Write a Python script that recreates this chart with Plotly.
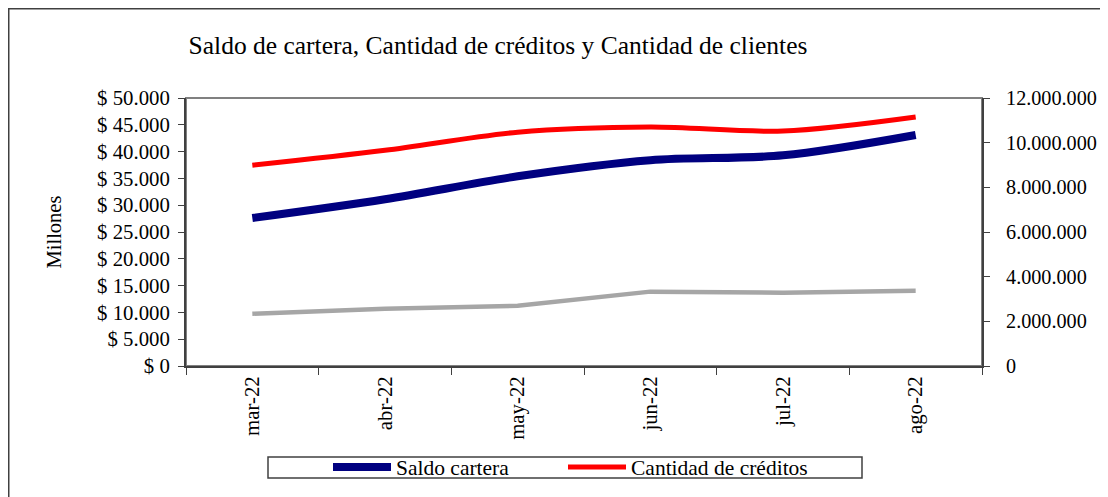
import plotly.graph_objects as go

# ---- data ----
months = ["mar-22", "abr-22", "may-22", "jun-22", "jul-22", "ago-22"]
saldo_cartera = [27600, 31100, 35400, 38400, 39300, 43100]          # millones (left axis)
cantidad_creditos = [8990000, 9660000, 10470000, 10700000, 10520000, 11150000]  # right axis
cantidad_clientes = [2340000, 2560000, 2700000, 3330000, 3280000, 3370000]      # right axis

left_ticks = [0, 5000, 10000, 15000, 20000, 25000, 30000, 35000, 40000, 45000, 50000]
right_ticks = [0, 2000000, 4000000, 6000000, 8000000, 10000000, 12000000]


def fmt_dots(v):
    return f"{v:,}".replace(",", ".")


left_text = [f"$ {fmt_dots(v)}" for v in left_ticks]
right_text = [fmt_dots(v) for v in right_ticks]

FONT = "Liberation Serif"
TICK = 20.8

OFF = 8  # page body margin
W, H = 1108 - OFF, 497 - OFF
# plot area in reference-image pixels
L, R, T, B = 186, 982, 98, 366
L, R, T, B = L - OFF, R - OFF, T - OFF, B - OFF

fig = go.Figure()

fig.add_trace(go.Scatter(
    x=months, y=cantidad_clientes, name="Cantidad de clientes", yaxis="y2",
    mode="lines", line=dict(color="#a6a6a6", width=4.5), showlegend=False))
fig.add_trace(go.Scatter(
    x=months, y=saldo_cartera, name="Saldo cartera", yaxis="y", legend="legend",
    mode="lines", line=dict(color="#000080", width=8, shape="spline", smoothing=0.9)))
fig.add_trace(go.Scatter(
    x=months, y=cantidad_creditos, name="Cantidad de créditos", yaxis="y2", legend="legend2",
    mode="lines", line=dict(color="#ff0000", width=5, shape="spline", smoothing=0.9)))

pw, ph = R - L, B - T


def px(x):  # reference-image x -> paper
    return (x - OFF - L) / pw


def py(y):  # reference-image y -> paper
    return (B - (y - OFF)) / ph


def legend_at(xref_px):
    return dict(orientation="h", x=px(xref_px), xanchor="left", y=py(467), yanchor="middle",
                borderwidth=0, bgcolor="rgba(0,0,0,0)",
                font=dict(family=FONT, size=21.5, color="black"), itemwidth=58)


fig.update_layout(
    width=W, height=H,
    margin=dict(l=L, r=W - R, t=T, b=H - B, pad=0, autoexpand=False),
    paper_bgcolor="white", plot_bgcolor="white",
    font=dict(family=FONT, size=TICK, color="black"),
    title=dict(text="Saldo de cartera, Cantidad de créditos y Cantidad de clientes",
               x=px(498), xanchor="center", xref="paper", y=1 - (45 - OFF) / H, yanchor="middle",
               font=dict(family=FONT, size=25.5, color="black")),
    xaxis=dict(type="category", range=[-0.5, 5.5], showgrid=False, showline=True, automargin=False,
               linecolor="#404040", linewidth=2,
               ticks="outside", ticklen=7, tickcolor="#404040", tickson="boundaries",
               tickangle=-90, tickfont=dict(family=FONT, size=TICK), zeroline=False),
    yaxis=dict(range=[0, 50000], tickvals=left_ticks, ticktext=left_text, showgrid=False,
               automargin=False,
               showline=True, linecolor="#404040", linewidth=2, ticks="outside", ticklen=6,
               tickcolor="#404040", zeroline=False, tickfont=dict(family=FONT, size=TICK),
               ticklabelstandoff=4,
               title=dict(text="Millones", font=dict(family=FONT, size=20.5), standoff=30)),
    yaxis2=dict(range=[0, 12000000], tickvals=right_ticks, ticktext=right_text, overlaying="y",
                automargin=False,
                side="right", showgrid=False, showline=True, linecolor="#404040", linewidth=2,
                ticks="outside", ticklen=6, tickcolor="#404040", zeroline=False,
                ticklabelstandoff=12, tickfont=dict(family=FONT, size=20.2)),
    legend=legend_at(328),
    legend2=legend_at(563),
    showlegend=True,
    shapes=[
        # plot area frame (grey)
        dict(type="rect", xref="paper", yref="paper", x0=0, x1=1, y0=0, y1=1,
             line=dict(color="#808080", width=2), layer="below"),
        # outer chart border
        dict(type="rect", xref="paper", yref="paper",
             x0=(0.75 - L) / pw, x1=(W + 20 - L) / pw, y0=(B - H - 20) / ph, y1=(B - 0.75) / ph,
             line=dict(color="#404040", width=1.5)),
        # legend box
        dict(type="rect", xref="paper", yref="paper", x0=px(268), x1=px(862), y0=py(478), y1=py(457),
             line=dict(color="#404040", width=1.5), fillcolor="white", layer="below"),
    ],
)

fig.write_html("out.html")
